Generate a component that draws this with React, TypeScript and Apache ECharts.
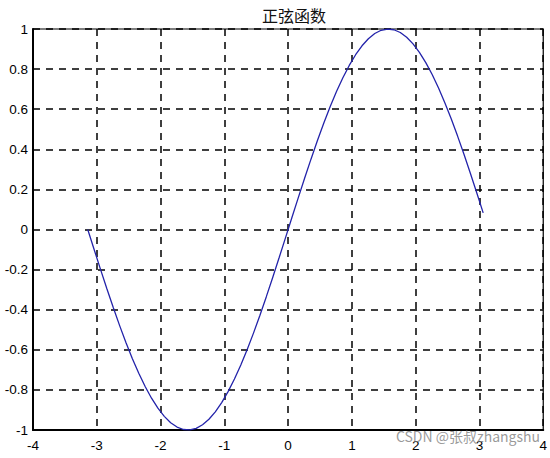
import React, { useEffect, useRef } from "react";
import * as echarts from "echarts";

const titleText = "正弦函数";
const xValues = [
  -3.1416, -3.0416, -2.9416, -2.8416, -2.7416, -2.6416, -2.5416, -2.4416, -2.3416, -2.2416,
  -2.1416, -2.0416, -1.9416, -1.8416, -1.7416, -1.6416, -1.5416, -1.4416, -1.3416, -1.2416,
  -1.1416, -1.0416, -0.9416, -0.8416, -0.7416, -0.6416, -0.5416, -0.4416, -0.3416, -0.2416,
  -0.1416, -0.0416, 0.0584, 0.1584, 0.2584, 0.3584, 0.4584, 0.5584, 0.6584, 0.7584,
  0.8584, 0.9584, 1.0584, 1.1584, 1.2584, 1.3584, 1.4584, 1.5584, 1.6584, 1.7584,
  1.8584, 1.9584, 2.0584, 2.1584, 2.2584, 2.3584, 2.4584, 2.5584, 2.6584, 2.7584,
  2.8584, 2.9584, 3.0584,
];
const yValues = [
  0, -0.0998, -0.1987, -0.2955, -0.3894, -0.4794, -0.5646, -0.6442, -0.7174, -0.7833,
  -0.8415, -0.8912, -0.932, -0.9636, -0.9854, -0.9975, -0.9996, -0.9917, -0.9738, -0.9463,
  -0.9093, -0.8632, -0.8085, -0.7457, -0.6755, -0.5985, -0.5155, -0.4274, -0.335, -0.2392,
  -0.1411, -0.0416, 0.0584, 0.1577, 0.2555, 0.3508, 0.4425, 0.5298, 0.6119, 0.6878,
  0.7568, 0.8183, 0.8716, 0.9162, 0.9516, 0.9775, 0.9937, 0.9999, 0.9962, 0.9825,
  0.9589, 0.9258, 0.8835, 0.8323, 0.7728, 0.7055, 0.6313, 0.5507, 0.4646, 0.3739,
  0.2794, 0.1822, 0.0831,
];
const watermark = "CSDN @张叔zhangshu";

export default function App() {
  const ref = useRef<HTMLDivElement>(null);
  useEffect(() => {
    if (!ref.current) return;
    const chart = echarts.init(ref.current, undefined, { renderer: "svg" });
    const gridLine = { show: true, lineStyle: { color: "#000", type: [7, 6] as any, width: 1.5 } };
    chart.setOption({
      animation: false,
      backgroundColor: "#fff",
      title: {
        text: titleText,
        left: 289,
        textAlign: "center",
        top: 2,
        textStyle: { fontFamily: "Noto Sans CJK SC", fontWeight: "normal", fontSize: 16, color: "#111" },
      },
      grid: {
        left: 33,
        right: 5,
        top: 29,
        bottom: 28,
        show: true,
        borderColor: "#000",
        borderWidth: 1.2,
      },
      xAxis: {
        type: "value",
        min: -4,
        max: 4,
        interval: 1,
        axisLine: { show: true, onZero: false, lineStyle: { color: "#000", width: 2 } },
        axisTick: { show: false },
        splitLine: gridLine,
        axisLabel: { color: "#000", fontFamily: "Liberation Sans", fontSize: 13.5, margin: 8 },
      },
      yAxis: {
        type: "value",
        min: -1,
        max: 1,
        interval: 0.2,
        axisLine: { show: true, onZero: false, lineStyle: { color: "#000", width: 2 } },
        axisTick: { show: false },
        splitLine: gridLine,
        axisLabel: {
          color: "#000",
          fontFamily: "Liberation Sans",
          fontSize: 13.5,
          margin: 5,
          formatter: (v: number) => String(Math.round(v * 10) / 10),
        },
      },
      graphic: [
        {
          type: "text",
          right: 10,
          top: 429,
          z: 100,
          style: { text: watermark, fill: "rgba(120,120,120,0.75)", font: "14px 'Noto Sans CJK SC'" },
        },
      ],
      series: [
        {
          type: "line",
          data: xValues.map((x, i) => [x, yValues[i]]),
          showSymbol: false,
          lineStyle: { color: "#2323aa", width: 1.3 },
          z: 5,
        },
      ],
    });
    return () => chart.dispose();
  }, []);
  return <div ref={ref} style={{ width: 550, height: 458, position: "absolute", left: 0, top: 0 }} />;
}
